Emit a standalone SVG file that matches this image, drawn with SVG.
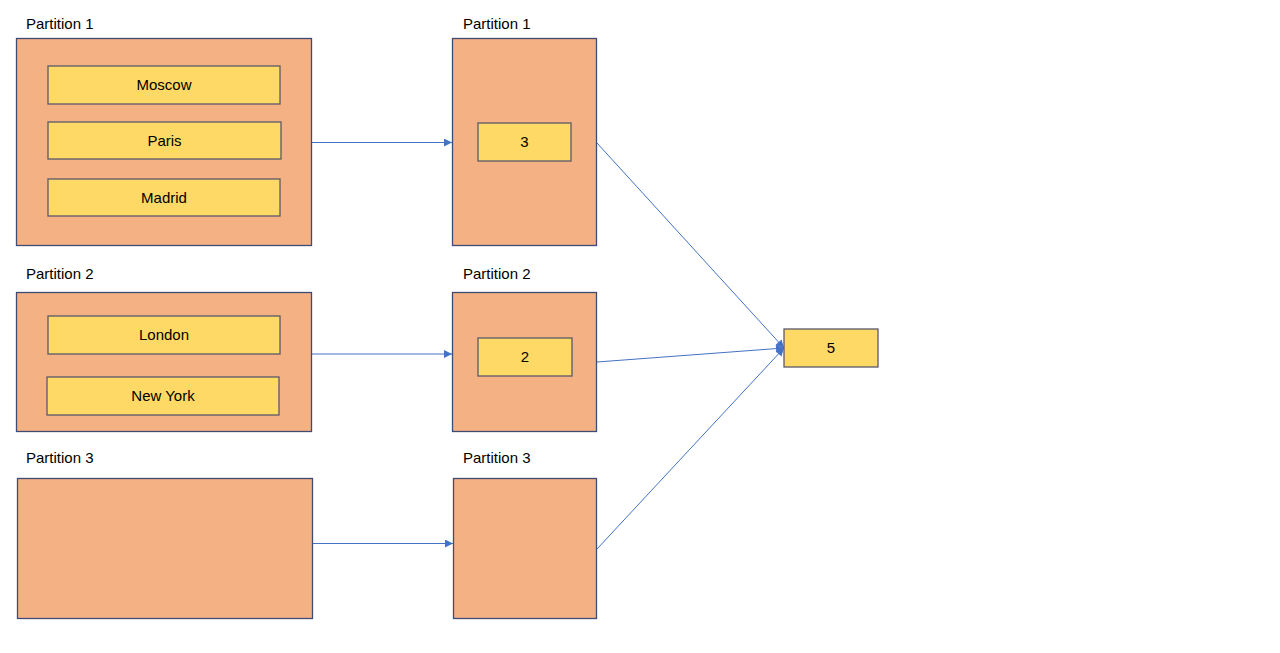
<svg xmlns="http://www.w3.org/2000/svg" width="1280" height="653" viewBox="0 0 1280 653">
<style>
.part{fill:#F4B183;stroke:#3F4A75;stroke-width:1.3}
.item{fill:#FFD966;stroke:#5A5A6A;stroke-width:1.3}
.lbl{font-family:"Liberation Sans",Arial,sans-serif;font-size:15px;fill:#000}
.txt{font-family:"Liberation Sans",Arial,sans-serif;font-size:15px;fill:#000;text-anchor:middle}
.conn{stroke:#4472C4;stroke-width:1;fill:none;marker-end:url(#arr)}
</style>
<defs>
<marker id="arr" viewBox="0 0 10 10" refX="10" refY="5" markerWidth="9" markerHeight="8" markerUnits="userSpaceOnUse" orient="auto">
<path d="M0,0 L10,5 L0,10 Z" fill="#4472C4"/>
</marker>
</defs>
<rect width="1280" height="653" fill="#fff"/>
<g id="connectors">
<line class="conn" x1="311" y1="142.5" x2="452" y2="142.5"/>
<line class="conn" x1="311" y1="354" x2="452" y2="354"/>
<line class="conn" x1="312" y1="543.5" x2="453" y2="543.5"/>
<line class="conn" x1="597" y1="143" x2="784" y2="348"/>
<line class="conn" x1="597" y1="362" x2="784" y2="348"/>
<line class="conn" x1="597" y1="549" x2="784" y2="348"/>
</g>
<g id="src1">
<text class="lbl" x="26" y="29">Partition 1</text>
<rect class="part" x="16.5" y="38.5" width="295" height="207"/>
<g id="moscow"><rect class="item" x="48" y="66" width="232" height="38"/><text class="txt" x="164" y="90">Moscow</text></g>
<g id="paris"><rect class="item" x="48" y="122" width="233" height="37"/><text class="txt" x="164.5" y="146">Paris</text></g>
<g id="madrid"><rect class="item" x="48" y="179" width="232" height="37"/><text class="txt" x="164" y="203">Madrid</text></g>
</g>
<g id="src2">
<text class="lbl" x="26" y="279">Partition 2</text>
<rect class="part" x="16.5" y="292.5" width="295" height="139"/>
<g id="london"><rect class="item" x="48" y="316" width="232" height="38"/><text class="txt" x="164" y="340">London</text></g>
<g id="newyork"><rect class="item" x="47" y="377" width="232" height="38"/><text class="txt" x="163" y="401">New York</text></g>
</g>
<g id="src3">
<text class="lbl" x="26" y="463">Partition 3</text>
<rect class="part" x="17.5" y="478.5" width="295" height="140"/>
</g>
<g id="dst1">
<text class="lbl" x="463" y="29">Partition 1</text>
<rect class="part" x="452.5" y="38.5" width="144" height="207"/>
<g id="count3"><rect class="item" x="478" y="123" width="93" height="38"/><text class="txt" x="524.5" y="147">3</text></g>
</g>
<g id="dst2">
<text class="lbl" x="463" y="279">Partition 2</text>
<rect class="part" x="452.5" y="292.5" width="144" height="139"/>
<g id="count2"><rect class="item" x="478" y="338" width="94" height="38"/><text class="txt" x="525" y="362">2</text></g>
</g>
<g id="dst3">
<text class="lbl" x="463" y="463">Partition 3</text>
<rect class="part" x="453.5" y="478.5" width="143" height="140"/>
</g>
<g id="total">
<rect class="item" x="784" y="329" width="94" height="38"/><text class="txt" x="831" y="353">5</text>
</g>
</svg>
